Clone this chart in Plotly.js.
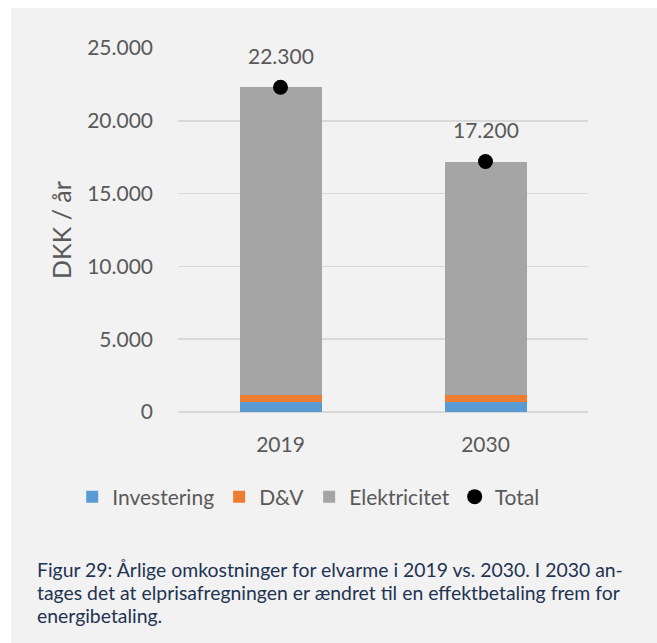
<!DOCTYPE html>
<html>
<head>
<meta charset="utf-8">
<script src="https://cdn.plot.ly/plotly-3.0.1.min.js"></script>
<style>
  html, body { margin: 0; padding: 0; background: #ffffff; }
  #chart { position: absolute; left: 11px; top: 8px; width: 646px; height: 635px; }
</style>
</head>
<body>
<div id="chart"></div>
<script>
// Data
const years = ['2019', '2030'];
const investering = [700, 700];
const dv = [500, 500];
const elektricitet = [21100, 16000];
const total = [22300, 17200];
const yTickVals = [0, 5000, 10000, 15000, 20000, 25000];
const captionLines = [
  'Figur 29: Årlige omkostninger for elvarme i 2019 vs. 2030. I 2030 an-',
  'tages det at elprisafregningen er ændret til en effektbetaling frem for',
  'energibetaling.'
];

const FONT = 'Lato, "Open Sans", sans-serif';
const GREY_TXT = '#595959';

function fmt(v) {
  return String(v).replace(/\B(?=(\d{3})+(?!\d))/g, '.');
}

const traces = [
  { type: 'bar', name: 'Investering', x: years, y: investering, marker: { color: '#5b9bd5' }, width: 0.4 },
  { type: 'bar', name: 'D&V', x: years, y: dv, marker: { color: '#ed7d31' }, width: 0.4 },
  { type: 'bar', name: 'Elektricitet', x: years, y: elektricitet, marker: { color: '#a5a5a5' }, width: 0.4 },
  { type: 'scatter', mode: 'markers', name: 'Total', x: years, y: total, marker: { color: '#000000', size: 15 } }
];

const annotations = years.map((yr, i) => ({
  x: i, y: total[i], xref: 'x', yref: 'y',
  text: fmt(total[i]), showarrow: false, yshift: 32,
  font: { family: FONT, size: 21, color: GREY_TXT }
}));

// caption lines (paper coords relative to plot area)
const capY = [-0.434, -0.497, -0.558];
captionLines.forEach((line, i) => {
  annotations.push({
    xref: 'paper', yref: 'paper', x: -0.35, y: capY[i],
    xanchor: 'left', yanchor: 'middle', align: 'left',
    text: line, showarrow: false,
    font: { family: FONT, size: 19.4, color: '#1f3352' }
  });
});

const layout = {
  width: 646, height: 635,
  paper_bgcolor: '#f2f2f2', plot_bgcolor: '#f2f2f2',
  margin: { l: 167, r: 69, t: 40, b: 231 },
  separators: ',.',
  barmode: 'stack',
  showlegend: true,
  hovermode: false,
  font: { family: FONT, color: GREY_TXT },
  xaxis: {
    type: 'category', range: [-0.5, 1.5],
    showgrid: false, zeroline: false, showline: false,
    ticks: '', ticklabelstandoff: 18,
    tickfont: { family: FONT, size: 21, color: GREY_TXT }
  },
  yaxis: {
    range: [0, 25000], tickvals: yTickVals, tickformat: ',d',
    showgrid: true, gridcolor: '#d9d9d9', gridwidth: 1.5,
    zeroline: true, zerolinecolor: '#d9d9d9', zerolinewidth: 2,
    ticks: '', ticklabelstandoff: 24,
    tickfont: { family: FONT, size: 21, color: GREY_TXT },
    title: { text: 'DKK / år', standoff: 8, font: { family: FONT, size: 25, color: GREY_TXT } }
  },
  legend: {
    orientation: 'h', x: -0.258, xanchor: 'left', y: -0.2335, yanchor: 'middle',
    font: { family: FONT, size: 21, color: GREY_TXT },
    bgcolor: 'rgba(0,0,0,0)', traceorder: 'normal', itemwidth: 30
  },
  annotations: annotations
};

Plotly.newPlot('chart', traces, layout, { displayModeBar: false, staticPlot: true });
</script>
</body>
</html>
